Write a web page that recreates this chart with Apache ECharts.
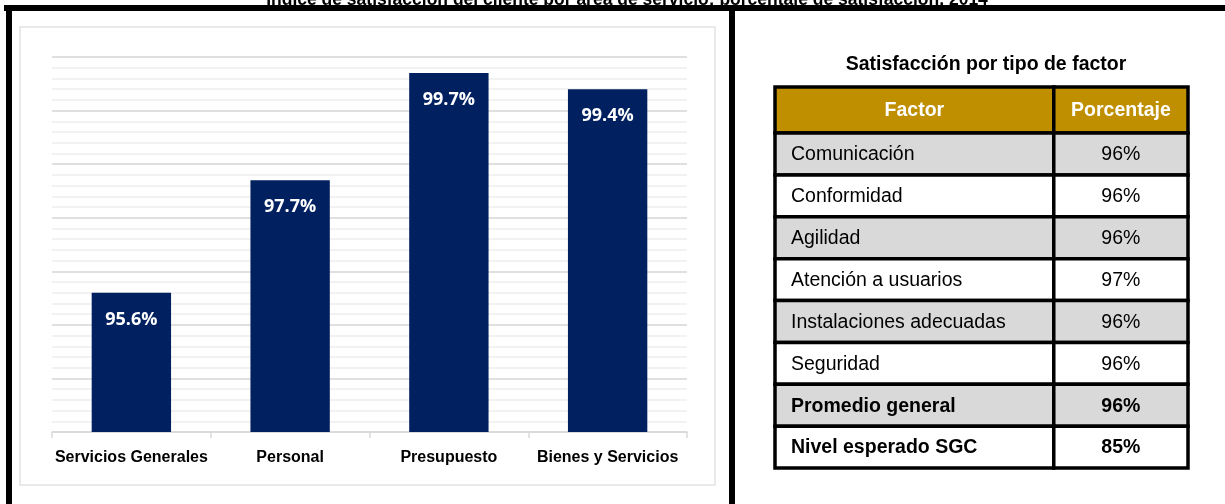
<!DOCTYPE html>
<html><head><meta charset="utf-8">
<script src="https://cdn.jsdelivr.net/npm/echarts@6/dist/echarts.min.js"></script>
<style>html,body{margin:0;padding:0;background:#fff}#c{width:1225px;height:504px}</style>
</head><body><div id="c"></div>
<script>
// ---- data ----
const mainTitle = 'Índice de satisfacción del cliente por área de servicio: porcentaje de satisfacción, 2014';
const categories = ['Servicios Generales', 'Personal', 'Presupuesto', 'Bienes y Servicios'];
const satisfaction = [95.6, 97.7, 99.7, 99.4];
const tableTitle = 'Satisfacción por tipo de factor';
const tableHeader = ['Factor', 'Porcentaje'];
const factors = ['Comunicación', 'Conformidad', 'Agilidad', 'Atención a usuarios', 'Instalaciones adecuadas', 'Seguridad', 'Promedio general', 'Nivel esperado SGC'];
const factorPct = ['96%', '96%', '96%', '97%', '96%', '96%', '96%', '85%'];
const boldRows = ['Promedio general', 'Nivel esperado SGC'];

const SANS = "'Liberation Sans',Arial,sans-serif";
const chart = echarts.init(document.getElementById('c'), null, {renderer: 'canvas'});

// table rows: 0 = header, then factors
const tableRows = [{name: tableHeader[0], pct: tableHeader[1], header: true}]
  .concat(factors.map((f, i) => ({name: f, pct: factorPct[i], header: false})));
const HEADER_UNITS = 1.1;
const COL_SPLIT = 0.675;

function renderRow(params, api) {
  const i = api.value(0);
  const row = tableRows[i];
  const y0 = i === 0 ? 0 : HEADER_UNITS + (i - 1);
  const y1 = i === 0 ? HEADER_UNITS : y0 + 1;
  const p0 = api.coord([0, y0]);
  const pm = api.coord([COL_SPLIT, y1]);
  const p1 = api.coord([1, y1]);
  const top = Math.min(p0[1], p1[1]);
  const h = Math.abs(p1[1] - p0[1]);
  let fill;
  if (row.header) fill = '#BF8F00';
  else fill = (i % 2 === 1) ? '#D9D9D9' : '#FFFFFF';
  const bold = row.header || boldRows.indexOf(row.name) >= 0;
  const color = row.header ? '#FFFFFF' : '#000000';
  const fs = 19.5;
  const cy = top + h / 2;
  return {
    type: 'group',
    children: [
      {type: 'rect', shape: {x: p0[0], y: top, width: pm[0] - p0[0], height: h},
        style: {fill: fill, stroke: '#000', lineWidth: 3.5}},
      {type: 'rect', shape: {x: pm[0], y: top, width: p1[0] - pm[0], height: h},
        style: {fill: fill, stroke: '#000', lineWidth: 3.5}},
      {type: 'text', z2: 10, style: {text: row.name,
        x: row.header ? (p0[0] + pm[0]) / 2 : p0[0] + 16, y: cy + 1,
        align: row.header ? 'center' : 'left', verticalAlign: 'middle',
        fill: color, fontSize: fs, fontFamily: SANS, fontWeight: bold ? 'bold' : 'normal'}},
      {type: 'text', z2: 10, style: {text: row.pct,
        x: (pm[0] + p1[0]) / 2, y: cy + 1, align: 'center', verticalAlign: 'middle',
        fill: color, fontSize: fs, fontFamily: SANS, fontWeight: bold ? 'bold' : 'normal'}}
    ]
  };
}

const option = {
  backgroundColor: '#fff',
  animation: false,
  title: [
    {text: mainTitle, left: 622, top: -14, textAlign: 'center',
      textStyle: {fontSize: 17.5, fontWeight: 'bold', color: '#000', fontFamily: SANS}},
    {text: tableTitle, left: 981, top: 50, textAlign: 'center',
      textStyle: {fontSize: 19.5, fontWeight: 'bold', color: '#000', fontFamily: SANS}}
  ],
  graphic: [
    {type: 'rect', shape: {x: 20, y: 27, width: 695, height: 458}, style: {fill: '#fff', stroke: '#e4e4e4', lineWidth: 1.5}, z: -1},
    {type: 'rect', shape: {x: 4, y: 5, width: 1221, height: 6}, style: {fill: '#000'}},
    {type: 'rect', shape: {x: 6, y: 5, width: 6, height: 499}, style: {fill: '#000'}},
    {type: 'rect', shape: {x: 729, y: 5, width: 6, height: 499}, style: {fill: '#000'}}
  ],
  grid: [
    {left: 52, right: 538, top: 57, bottom: 72, containLabel: false},
    {left: 775, width: 413, top: 87, height: 381, containLabel: false}
  ],
  xAxis: [
    {type: 'category', data: categories, gridIndex: 0,
      axisLine: {lineStyle: {color: '#d9d9d9', width: 1.5}},
      axisTick: {show: true, length: 6, lineStyle: {color: '#d9d9d9', width: 1.5}},
      axisLabel: {color: '#000', fontSize: 16, fontWeight: 'bold', fontFamily: SANS, margin: 18, interval: 0}},
    {type: 'value', gridIndex: 1, min: 0, max: 1, show: false}
  ],
  yAxis: [
    {type: 'value', gridIndex: 0, min: 93, max: 100, interval: 1,
      axisLabel: {show: false}, axisLine: {show: false}, axisTick: {show: false},
      splitLine: {show: true, lineStyle: {color: '#d6d6d6', width: 1.5}},
      minorTick: {show: false, splitNumber: 5},
      minorSplitLine: {show: true, lineStyle: {color: '#eeeeee', width: 1.5}}},
    {type: 'value', gridIndex: 1, min: 0, max: HEADER_UNITS + factors.length, inverse: true, show: false}
  ],
  series: [
    {type: 'bar', xAxisIndex: 0, yAxisIndex: 0, data: satisfaction, barWidth: '50%',
      itemStyle: {color: '#002060'},
      label: {show: true, position: 'insideTop', distance: 18, color: '#fff',
        fontSize: 18, fontWeight: 'bold', fontFamily: "'Open Sans',sans-serif",
        formatter: p => p.value.toFixed(1) + '%'}},
    {type: 'custom', xAxisIndex: 1, yAxisIndex: 1, renderItem: renderRow,
      data: tableRows.map((r, i) => [i]), clip: false}
  ]
};
chart.setOption(option);
</script>
</body></html>
